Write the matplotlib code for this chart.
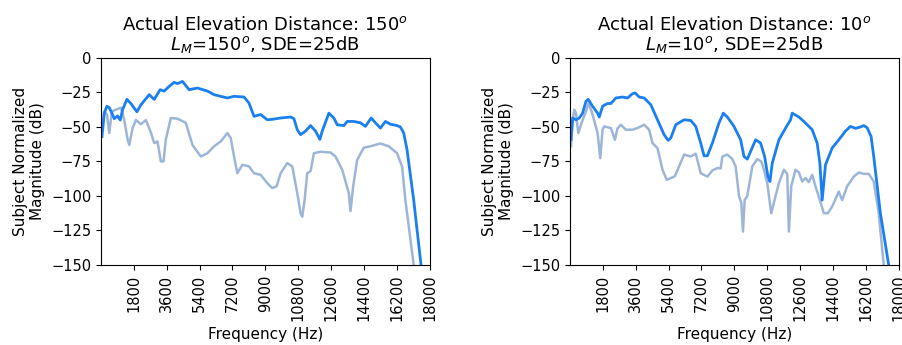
import numpy as np
import matplotlib
matplotlib.use('Agg')
import matplotlib.pyplot as plt

# left panel: actual elevation distance 150
f_l_subj = [55, 182, 328, 455, 601, 729, 911, 1057, 1184, 1421, 1640, 1968, 2186, 2642, 2915,
            3243, 3462, 3735, 4008, 4191, 4464, 4828, 5284, 5830, 6195, 6559, 6924, 7288, 7835,
            8108, 8381, 8746, 9110, 9474, 9839, 10385, 10568, 10750, 10932, 11205, 11479, 11752,
            11989, 12116, 12481, 12754, 12936, 13301, 13483, 13847, 14212, 14485, 14795, 15032,
            15305, 15578, 15851, 16216, 16398, 16580, 16762, 17127, 17528, 17800]
db_l_subj = [-57, -40, -35, -36, -40, -44, -42, -45, -37.5, -30, -33, -39, -34, -26.6, -30,
             -23, -24, -20.6, -17.7, -18.6, -17, -23, -21.8, -24, -26.6, -27.8, -29, -27.8, -28.3,
             -32.7, -42.3, -41, -44.8, -44.3, -43.5, -42.8, -44, -52, -55.6, -53, -49, -53,
             -59, -53, -40, -43.5, -48.4, -49, -46, -46, -47, -49.6, -43.5, -47,
             -50.8, -46, -48, -49, -50, -54.4, -66.5, -103, -150, -190]

f_l_other = [55, 182, 328, 455, 601, 820, 1093, 1275, 1458, 1549, 1731, 1913, 2186, 2460, 2733,
             2915, 3097, 3280, 3425, 3553, 3826, 4191, 4646, 5011, 5466, 5830, 6195, 6559, 6924,
             7106, 7288, 7470, 7744, 8108, 8381, 8746, 9110, 9383, 9620, 9839, 10203, 10477,
             10750, 10932, 11023, 11151, 11296, 11479, 11661, 12025, 12572, 12845, 13210, 13574,
             13665, 13811, 14029, 14394, 14758, 15305, 15760, 16216, 16489, 16671, 17127, 17400]
db_l_other = [-52, -38.7, -41, -54.4, -38.7, -37.5, -36, -44.8, -59, -63, -51, -45, -48, -45, -54,
              -61.7, -60.5, -75, -75, -59, -43.5, -44, -47, -63, -71.4, -69, -64, -60.5, -54.4,
              -58, -71.4, -83.5, -77.4, -78.6, -83.5, -84.7, -90.7, -94.3, -93, -83.5, -76.2, -78.6,
              -98, -112.5, -115, -103, -83.5, -82, -69, -68, -68.5, -71.4, -81, -98,
              -111, -93, -74, -65, -64, -62, -64, -69, -78.6, -103, -150, -190]

# right panel: actual elevation distance 10
f_r_subj = [55, 146, 328, 510, 692, 875, 1002, 1239, 1512, 1603, 1786, 2059, 2241, 2514, 2879,
            3152, 3425, 3571, 3790, 4063, 4427, 4792, 5156, 5375, 5521, 5794, 6250, 6614, 6887,
            7160, 7343, 7525, 7798, 8162, 8399, 8618, 8982, 9347, 9529, 9711, 9893, 10167, 10440,
            10659, 10841, 10950, 11078, 11442, 11807, 12080, 12171, 12536, 12809, 13264, 13537,
            13683, 13811, 13993, 14357, 14722, 15086, 15359, 15633, 15906, 16088, 16270, 16489,
            16635, 16999, 17454, 17700]
db_r_subj = [-59, -43.5, -44.8, -43.5, -40, -31.4, -30, -35, -40, -42.8, -35, -33, -33, -29, -28.3,
             -29, -25.9, -25.4, -28.3, -29, -33.9, -44.8, -55.6, -59.7, -58, -48.4, -44.8, -45.3, -49.6,
             -61.7, -70.9, -70.9, -61.7, -47, -40, -42.8, -49.6, -59.3, -71.4, -73.3, -67.7, -59.3, -61.7,
             -71.4, -86, -89.5, -76.2, -59.3, -50.8, -44.8, -40, -42.8, -46, -52, -61.7,
             -76, -103, -77.4, -65.3, -59.3, -53, -49.6, -51, -50, -49, -50.5, -56.8,
             -71.4, -112.5, -150, -180]

f_r_other = [55, 146, 237, 328, 455, 638, 875, 1020, 1239, 1512, 1658, 1786, 1877, 2241, 2460,
             2605, 2788, 3061, 3425, 3699, 4063, 4336, 4518, 4792, 5065, 5302, 5521, 5739, 5976,
             6250, 6614, 6887, 7160, 7525, 7798, 8071, 8254, 8345, 8618, 8891, 9074, 9256, 9383,
             9474, 9565, 9711, 9984, 10258, 10477, 10622, 10804, 11023, 11260, 11442, 11715, 11898,
             11989, 12116, 12353, 12536, 12718, 12900, 13082, 13264, 13446, 13683, 13902, 14120,
             14357, 14722, 14904, 15177, 15542, 15815, 16088, 16361, 16635, 16908, 17182, 17400]
db_r_other = [-64, -45, -37.5, -40, -54.4, -47, -38.7, -32.7, -41, -54.4, -72.6, -51.8, -49.6, -50.8, -59.3,
              -51, -48.4, -52, -52, -50.8, -48.4, -52, -61.7, -65.3, -81, -88.3, -87, -85.8, -78.6,
              -70, -71.4, -69.4, -83.5, -86, -81.5, -79.8, -80, -71.4, -70, -73.3, -78.6, -100, -105,
              -125.8, -103, -100, -78.6, -73.3, -75, -81, -90.7, -112.5, -100, -90.7, -81, -84,
              -125.8, -93, -81, -83, -89.5, -87, -90, -84.7, -93, -103, -112.5, -112.5,
              -107.7, -96.8, -103, -93, -86, -83, -84, -84, -89.5, -112.5, -150, -180]

titles = ['Actual Elevation Distance: 150$^o$\n$L_M$=150$^o$, SDE=25dB',
          'Actual Elevation Distance: 10$^o$\n$L_M$=10$^o$, SDE=25dB']
xticks = [1800, 3600, 5400, 7200, 9000, 10800, 12600, 14400, 16200, 18000]
yticks = [0, -25, -50, -75, -100, -125, -150]

panels = [(f_l_subj, db_l_subj, f_l_other, db_l_other),
          (f_r_subj, db_r_subj, f_r_other, db_r_other)]

fig = plt.figure(figsize=(9.03, 3.45), dpi=100)
lefts = [0.1118, 0.6312]

for i in range(2):
    ax = fig.add_axes([lefts[i], 0.232, 0.364, 0.6])
    fs, ds, fo, do = panels[i]
    ax.plot(fo, do, color='#9db6d8', lw=1.8)
    ax.plot(fs, ds, color='#1a7ff0', lw=2.0)
    ax.set_xlim(0, 18000)
    ax.set_ylim(-150, 0)
    ax.set_xticks(xticks)
    ax.set_xticklabels([str(t) for t in xticks], rotation=90, fontsize=10.5)
    ax.set_yticks(yticks)
    ax.tick_params(axis='y', labelsize=10.5)
    ax.set_xlabel('Frequency (Hz)', fontsize=11)
    ax.set_ylabel('Subject Normalized\nMagnitude (dB)', fontsize=11)
    ax.set_title(titles[i], fontsize=13, linespacing=1.0)

fig.savefig('out.png', dpi=100)
